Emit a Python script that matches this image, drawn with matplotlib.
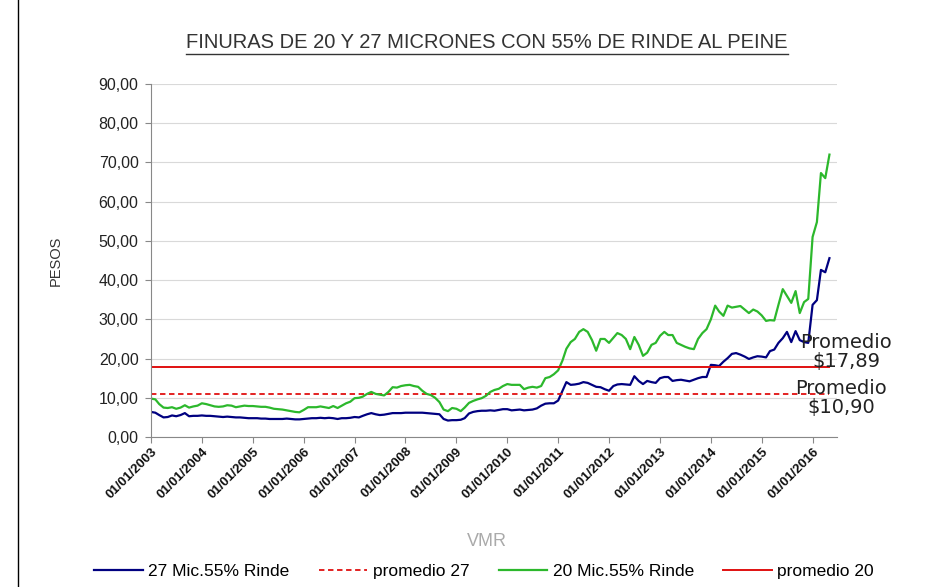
import matplotlib
matplotlib.use('Agg')
import matplotlib.pyplot as plt
import matplotlib.dates as mdates
from matplotlib.ticker import FuncFormatter, MultipleLocator
from matplotlib.lines import Line2D
import pandas as pd

# monthly series, Jan 2003 .. May 2016
fechas = pd.date_range('2003-01-01', periods=161, freq='MS')

mic27 = [
    6.4, 6.2, 5.6, 5.0, 5.1, 5.5, 5.3, 5.6, 6.1, 5.3, 5.4, 5.4,        # 2003
    5.5, 5.4, 5.4, 5.3, 5.2, 5.1, 5.2, 5.1, 5.0, 5.0, 4.9, 4.8,        # 2004
    4.8, 4.8, 4.7, 4.7, 4.6, 4.6, 4.6, 4.6, 4.7, 4.6, 4.5, 4.5,        # 2005
    4.6, 4.7, 4.8, 4.8, 4.9, 4.8, 4.9, 4.8, 4.6, 4.8, 4.8, 4.9,        # 2006
    5.1, 5.0, 5.4, 5.8, 6.1, 5.8, 5.6, 5.7, 5.9, 6.1, 6.1, 6.1,        # 2007
    6.2, 6.2, 6.2, 6.2, 6.2, 6.1, 6.0, 5.9, 5.8, 4.6, 4.2, 4.3,        # 2008
    4.3, 4.4, 4.8, 6.0, 6.4, 6.6, 6.7, 6.7, 6.8, 6.7, 6.9, 7.1,        # 2009
    7.1, 6.8, 6.9, 7.0, 6.8, 6.9, 7.0, 7.3, 8.0, 8.5, 8.6, 8.6,        # 2010
    9.3, 11.8, 14.0, 13.3, 13.4, 13.6, 14.0, 13.8, 13.3, 12.8, 12.7, 12.2,  # 2011
    11.8, 13.0, 13.4, 13.5, 13.4, 13.3, 15.5, 14.3, 13.5, 14.3, 14.0, 13.8,  # 2012
    15.0, 15.3, 15.3, 14.3, 14.5, 14.6, 14.4, 14.2, 14.6, 15.0, 15.3, 15.3,  # 2013
    18.4, 18.3, 18.1, 19.2, 20.1, 21.2, 21.4, 21.0, 20.5, 19.9, 20.3, 20.6,  # 2014
    20.5, 20.3, 21.9, 22.3, 24.0, 25.2, 26.8, 24.2, 27.0, 24.7, 24.2, 24.0,  # 2015
    33.7, 34.9, 42.6, 42.0, 45.6,                                      # 2016
]

mic20 = [
    9.8, 9.6, 8.4, 7.5, 7.4, 7.6, 7.2, 7.5, 8.1, 7.5, 7.8, 8.0,
    8.6, 8.4, 8.1, 7.8, 7.7, 7.8, 8.1, 8.0, 7.6, 7.8, 8.0, 7.9,
    7.9, 7.8, 7.7, 7.7, 7.5, 7.2, 7.1, 7.0, 6.8, 6.6, 6.4, 6.3,
    6.9, 7.6, 7.6, 7.6, 7.8, 7.6, 7.4, 7.9, 7.4, 8.0, 8.6, 9.0,
    9.9, 10.0, 10.3, 11.0, 11.5, 11.0, 10.8, 10.6, 11.5, 12.7, 12.6, 13.0,
    13.2, 13.3, 13.0, 12.8, 11.8, 11.0, 10.7, 10.0, 8.9, 7.0, 6.6, 7.4,
    7.2, 6.6, 7.5, 8.7, 9.2, 9.6, 9.9, 10.5, 11.5, 12.0, 12.3, 13.0,
    13.5, 13.3, 13.3, 13.3, 12.2, 12.6, 12.8, 12.6, 13.0, 15.0, 15.3, 16.0,
    17.0, 19.5, 22.5, 24.2, 25.0, 26.8, 27.5, 26.8, 24.7, 22.0, 25.0, 25.0,
    24.0, 25.3, 26.5, 26.0, 25.0, 22.4, 25.5, 23.5, 20.7, 21.5, 23.5, 24.0,
    25.8, 26.8, 26.0, 26.0, 24.0, 23.5, 23.0, 22.6, 22.4, 25.0, 26.5, 27.5,
    30.0, 33.5, 32.0, 30.9, 33.5, 33.0, 33.2, 33.4, 32.5, 31.6, 32.5, 32.0,
    31.0, 29.6, 29.8, 29.7, 33.7, 37.7, 36.0, 34.2, 37.2, 31.6, 34.4, 35.2,
    51.0, 54.8, 67.3, 66.0, 72.0,
]

promedio27 = 10.90
promedio20 = 17.89

titulo = 'FINURAS DE 20 Y 27 MICRONES CON 55% DE RINDE AL PEINE'

sans = ['Liberation Sans', 'DejaVu Sans']

fig = plt.figure(figsize=(9.42, 5.87), dpi=100)
ax = fig.add_axes([0.1603, 0.2555, 0.7282, 0.6014])

azul = '#000080'
verde = '#2cb82c'
rojo = '#e01010'

ax.plot(fechas, mic27, color=azul, lw=1.6, label='27 Mic.55% Rinde')
ax.plot([fechas[0], fechas[-1]], [promedio27, promedio27], color=rojo, lw=1.3,
        ls=(0, (3, 2)), label='promedio 27')
ax.plot(fechas, mic20, color=verde, lw=1.6, label='20 Mic.55% Rinde')
ax.plot([fechas[0], fechas[-1]], [promedio20, promedio20], color=rojo, lw=1.4,
        label='promedio 20')

ax.set_ylim(0, 90)
ax.set_xlim(pd.Timestamp('2003-01-01'), pd.Timestamp('2016-06-24'))
ax.yaxis.set_major_locator(MultipleLocator(10))
ax.yaxis.set_major_formatter(FuncFormatter(lambda v, p: f'{v:.2f}'.replace('.', ',')))
ax.xaxis.set_major_locator(mdates.YearLocator())
ax.xaxis.set_major_formatter(mdates.DateFormatter('%d/%m/%Y'))

ax.grid(axis='y', color='#d9d9d9', lw=0.8)
ax.set_axisbelow(True)
for s in ['top', 'right']:
    ax.spines[s].set_visible(False)
for s in ['left', 'bottom']:
    ax.spines[s].set_color('#888888')
ax.tick_params(axis='both', colors='#888888', length=4)
ax.tick_params(axis='y', labelcolor='#222222', labelsize=11.5, pad=5)
ax.tick_params(axis='x', labelcolor='#111111', labelsize=9.5, pad=2)
for lab in ax.get_yticklabels():
    lab.set_family(sans)
for lab in ax.get_xticklabels():
    lab.set_family(sans)
    lab.set_fontweight('bold')
    lab.set_rotation(45)
    lab.set_ha('right')
    lab.set_va('top')
    lab.set_rotation_mode('anchor')

ax.set_ylabel('PESOS', fontsize=10.5, color='#333333', labelpad=26, family=sans)

fig.text(487 / 942, 1 - 541 / 587, 'VMR', ha='center', va='center', fontsize=13,
         color='#aaaaaa', family=sans)

t = fig.text(487 / 942, 1 - 43 / 587, titulo, ha='center', va='center', fontsize=14.5,
             color='#333333', family=sans)

fig.text(846 / 942, 1 - 352 / 587, 'Promedio\n\\$17,89', ha='center', va='center',
         fontsize=14, color='#222222', linespacing=0.95)
fig.text(841 / 942, 1 - 398 / 587, 'Promedio\n\\$10,90', ha='center', va='center',
         fontsize=14, color='#222222', linespacing=0.95)

ax.legend(loc='center', bbox_to_anchor=(484 / 942, 1 - 571 / 587),
          bbox_transform=fig.transFigure, ncol=4, frameon=False, handlelength=2.8,
          handletextpad=0.3, columnspacing=1.7,
          prop={'family': sans, 'size': 12.5})

# underline the title
fig.canvas.draw()
bb = t.get_window_extent().transformed(fig.transFigure.inverted())
fig.add_artist(Line2D([bb.x0, bb.x1], [bb.y0 - 0.002, bb.y0 - 0.002],
                      transform=fig.transFigure, color='#333333', lw=1))

# outer frame line
fig.add_artist(Line2D([18 / 942, 18 / 942], [0, 1], transform=fig.transFigure,
                      color='black', lw=1))

fig.savefig('out.png', dpi=100)
